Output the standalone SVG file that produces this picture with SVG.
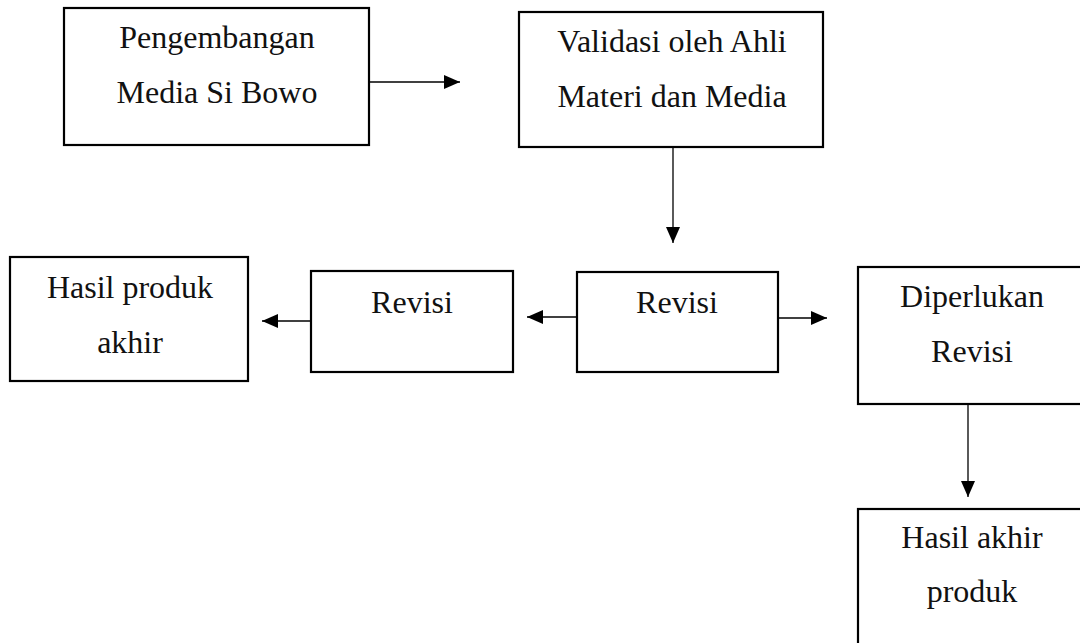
<svg xmlns="http://www.w3.org/2000/svg" width="1080" height="643" viewBox="0 0 1080 643">
<style>
.box{fill:#fff;stroke:#000;stroke-width:2.2}
.t{font-family:"Liberation Serif","Times New Roman",serif;font-size:32px;fill:#111;text-anchor:middle}
.c{stroke:#000;stroke-width:1.3;fill:none}
</style>
<defs>
<marker id="ah" markerWidth="16" markerHeight="14" refX="16" refY="7" orient="auto" markerUnits="userSpaceOnUse">
<path d="M0,0 L16,7 L0,14 Z" fill="#000"/>
</marker>
</defs>
<rect width="1080" height="643" fill="#fff"/>
<g id="n1">
<rect class="box" x="64" y="8" width="305" height="137"/>
<text class="t" x="217" y="48">Pengembangan</text>
<text class="t" x="217" y="103">Media Si Bowo</text>
</g>
<g id="n2">
<rect class="box" x="519" y="12" width="304" height="135"/>
<text class="t" x="672" y="52">Validasi oleh Ahli</text>
<text class="t" x="672" y="107">Materi dan Media</text>
</g>
<g id="n3">
<rect class="box" x="10" y="257" width="238" height="124"/>
<text class="t" x="130" y="298">Hasil produk</text>
<text class="t" x="130" y="353">akhir</text>
</g>
<g id="n4">
<rect class="box" x="311" y="271" width="202" height="101"/>
<text class="t" x="412" y="313">Revisi</text>
</g>
<g id="n5">
<rect class="box" x="577" y="272" width="201" height="100"/>
<text class="t" x="677" y="313">Revisi</text>
</g>
<g id="n6">
<rect class="box" x="858" y="267" width="228" height="137"/>
<text class="t" x="972" y="307">Diperlukan</text>
<text class="t" x="972" y="362">Revisi</text>
</g>
<g id="n7">
<rect class="box" x="858" y="509" width="228" height="150"/>
<text class="t" x="972" y="548">Hasil akhir</text>
<text class="t" x="972" y="602">produk</text>
</g>
<g id="connectors">
<line class="c" x1="369" y1="82" x2="460" y2="82" marker-end="url(#ah)"/>
<line class="c" x1="673" y1="148" x2="673" y2="243" marker-end="url(#ah)"/>
<line class="c" x1="577" y1="317" x2="527" y2="317" marker-end="url(#ah)"/>
<line class="c" x1="311" y1="321" x2="262" y2="321" marker-end="url(#ah)"/>
<line class="c" x1="778" y1="318" x2="827" y2="318" marker-end="url(#ah)"/>
<line class="c" x1="968" y1="404" x2="968" y2="497" marker-end="url(#ah)"/>
</g>
</svg>
